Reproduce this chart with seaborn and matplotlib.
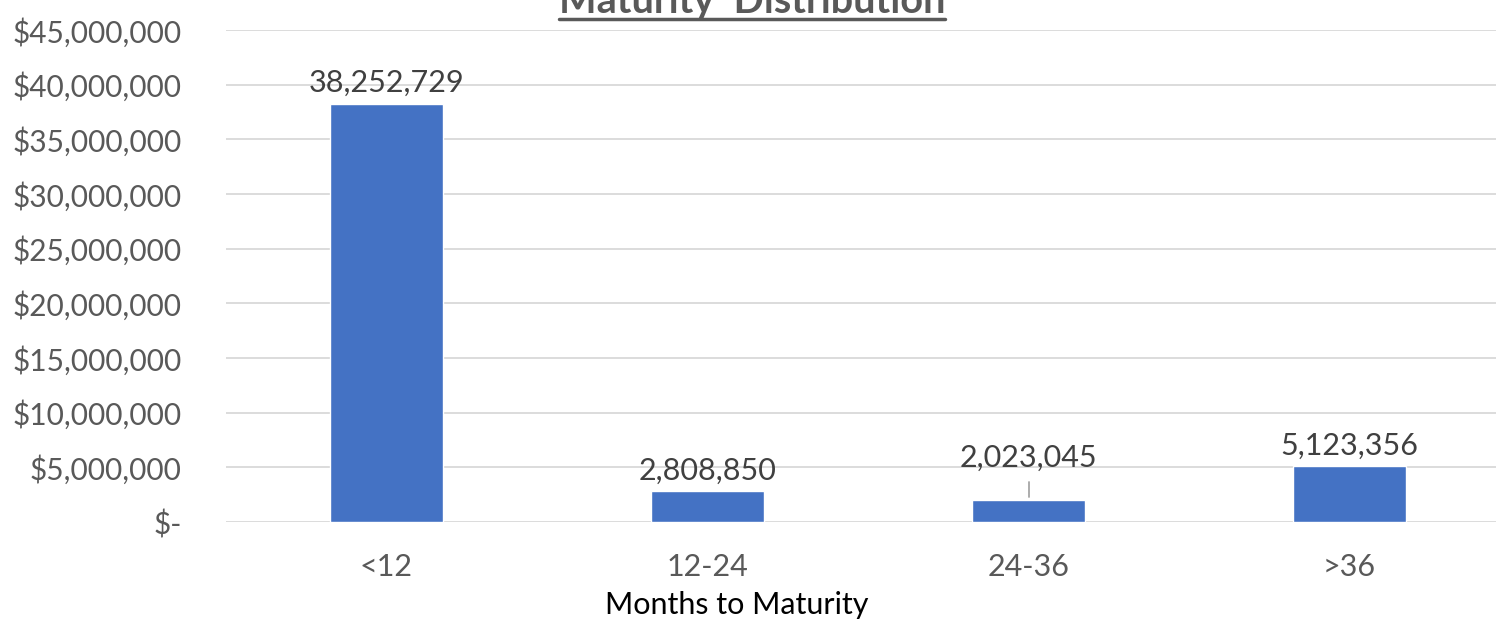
import matplotlib
matplotlib.use("Agg")
import matplotlib.pyplot as plt
import seaborn as sns
import pandas as pd
from matplotlib.lines import Line2D

categories = ["<12", "12-24", "24-36", ">36"]
values = [38252729, 2808850, 2023045, 5123356]
label_texts = ["38,252,729", "2,808,850", "2,023,045", "5,123,356"]
ytick_values = [0, 5e6, 10e6, 15e6, 20e6, 25e6, 30e6, 35e6, 40e6, 45e6]

sns.set_theme(style="white")
plt.rcParams['font.family'] = ['Lato', 'DejaVu Sans']

df = pd.DataFrame({"cat": categories, "val": values})

W, H = 1496, 619
fig = plt.figure(figsize=(W / 100, H / 100), dpi=100)
ax = fig.add_axes([226 / W, 1 - 522 / H, (W - 226) / W, (522 - 30) / H])

sns.barplot(data=df, x="cat", y="val", color="#4472C4", saturation=1, width=0.35, ax=ax, zorder=3)

ax.set_xlim(-0.5, -0.5 + (W - 226) / 321)
ax.set_ylim(0, 45e6)
ax.set_yticks(ytick_values)
ax.set_yticklabels(["$-" if v == 0 else "${:,.0f}".format(v) for v in ytick_values])
ax.yaxis.grid(True, color="#D9D9D9", linewidth=1.3, zorder=0)
ax.xaxis.grid(False)
for s in ax.spines.values():
    s.set_visible(False)
ax.tick_params(axis="y", length=0, pad=32, labelsize=21.5, labelcolor="#595959")
ax.tick_params(axis="x", length=0, pad=22, labelsize=22, labelcolor="#595959")
ax.set_ylabel("")
ax.set_xlabel("Months to Maturity", fontsize=22, color="black")
ax.xaxis.set_label_coords((737 - 226) / (W - 226), -(605 - 522) / (522 - 30))
ax.xaxis.label.set_va("center")

# data labels
for i, (v, t) in enumerate(zip(values, label_texts)):
    if i == 2:
        ytxt = v + 2.6e6
        ax.plot([i, i], [v + 0.25e6, v + 1.6e6], color="#A6A6A6", linewidth=1.3, zorder=4)
    else:
        ytxt = v + 0.6e6
    ax.text(i, ytxt, t, ha="center", va="bottom", fontsize=22, color="#404040", zorder=5)

# title (partially cut at top, underlined)
title = fig.text(752 / W, 1 - 13 / H, "Maturity  Distribution", ha="center", va="baseline",
                 fontsize=28.5, fontweight="bold", color="#595959")
fig.canvas.draw()
bb = title.get_window_extent()
inv = fig.transFigure.inverted()
(x0, _), (x1, _) = inv.transform([(bb.x0, 0), (bb.x1, 0)])
fig.add_artist(Line2D([x0, x1], [1 - 19 / H, 1 - 19 / H], transform=fig.transFigure,
                      color="#595959", linewidth=2.5))

fig.savefig("out.png", dpi=100)
